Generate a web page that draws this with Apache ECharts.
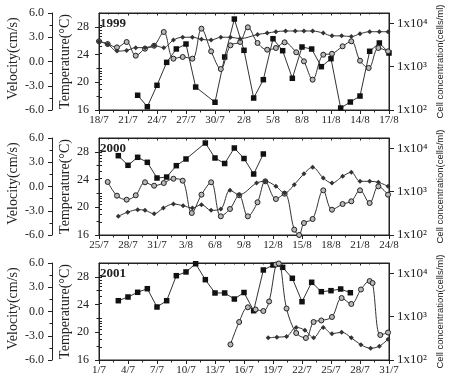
<!DOCTYPE html>
<html><head><meta charset="utf-8">
<script src="https://cdn.jsdelivr.net/npm/echarts@6/dist/echarts.min.js"></script>
<style>html,body{margin:0;padding:0;background:#fff}#c{width:450px;height:382px}</style>
</head><body><div id="c"></div>
<script>
// ---- tick labels (x axis, every 3 days) ----
const tickLabels1999 = ['18/7','21/7','24/7','27/7','30/7','2/8','5/8','8/8','11/8','14/8','17/8'];
const tickLabels2000 = ['25/7','28/7','31/7','3/8','6/8','9/8','12/8','15/8','18/8','21/8','24/8'];
const tickLabels2001 = ['1/7','4/7','7/7','10/7','13/7','16/7','19/7','22/7','25/7','28/7','31/7'];
const years = ['1999','2000','2001'];
const tempTicks = [16,20,24,28];
const cellTicks = [100,1000,10000];
const cellMinorTicks = [200,300,400,500,600,700,800,900,2000,3000,4000,5000,6000,7000,8000,9000];
const axisNames = {velocity:'Velocity(cm/s)', temperature:'Temperature(\u00b0C)', cells:'Cell concentration(cells/ml)'};

// ---- cell concentration (cells/ml), [day offset, value] ----
const cells1999 = [[4,219],[5,119],[6,372],[7,1260],[8,2570],[9,3340],[10,339],[12,151],[13,1675],[14,12600],[15,2390],[16,189],[17,501],[18,4430],[19,2340],[20,540],[21,2850],[22,2560],[23,1000],[24,1530],[25,111],[26,153],[27,210],[28,2270],[29,3530],[30,2070]];
const cells2000 = [[2,6780],[3,4070],[4,6230],[5,4770],[6,2070],[7,2180],[8,3990],[9,5690],[11,13300],[12,6000],[13,4480],[14,10200],[15,5840],[16,2560],[17,7430]];
const cells2001 = [[2,2340],[3,2850],[4,3660],[5,4430],[6,1675],[7,2340],[8,8850],[9,10800],[10,16700],[11,7160],[12,3530],[13,3530],[14,2560],[15,3620],[16,1375],[17,11990],[18,15600],[19,13800],[20,7710],[21,2220],[22,6230],[23,3780],[24,3990],[25,4360],[26,3580]];

// ---- velocity (cm/s) ----
const velocity1999 = [[0,2.50],[0.9,2.16],[1.86,1.75],[2.86,2.41],[3.8,0.72],[4.76,1.58],[5.7,1.95],[6.7,3.65],[7.7,0.35],[8.66,0.56],[9.66,0.35],[10.6,4.06],[11.6,1.26],[12.6,-0.93],[13.6,2.0],[14.6,2.41],[15.4,4.23],[16.4,2.29],[17.4,1.46],[18.3,1.67],[19.2,2.37],[20.4,1.14],[21.2,0.02],[22.1,-2.25],[23.2,0.84],[24.1,0.96],[25.2,1.88],[26.1,2.5],[27,0.1],[27.9,-0.8],[28.9,1.67],[29.9,1.26]];
const velocity2000 = [[0.9,0.56],[1.86,-1.14],[2.86,-1.63],[3.8,-1.09],[4.76,0.52],[5.7,0.10],[6.7,0.43],[7.7,0.96],[8.66,0.72],[9.6,-3.28],[10.6,-1.01],[11.6,0.52],[12.6,-3.69],[13.55,-2.78],[14.5,-1.09],[15.4,-3.69],[16.4,-1.95],[17.2,0.64],[18.3,-1.55],[19.2,-0.89],[20.2,-5.34],[20.7,-6.0],[21.2,-4.52],[22.1,-4.02],[23.2,-0.47],[24.1,-2.87],[25.2,-2.17],[26.1,-1.83],[27,-0.47],[28,-2.04],[28.9,0.02],[29.9,-1.01]];
const velocity2001 = [[13.6,-4.08],[14.5,-1.30],[15.4,0.52],[16.2,0.25],[17.0,0.06],[17.6,1.24],[18.3,5.81],[18.6,5.94],[19.4,0.37],[20.4,-2.66],[21.4,-3.28],[22.2,-1.30],[23.0,-1.11],[24.1,-0.68],[25.1,1.67],[26.1,0.93],[27.1,2.72],[28.0,3.77],[28.3,3.52],[29.1,-2.91],[29.9,-2.6]];

// ---- temperature (°C) ----
const temperature1999 = [[0,25.9],[0.9,25.5],[1.86,24.5],[2.86,24.6],[3.8,25.0],[4.76,25.0],[5.7,25.3],[6.7,25.0],[7.7,26.1],[8.66,26.5],[9.66,26.5],[10.6,26.2],[11.6,26.1],[12.6,26.5],[13.6,26.5],[14.6,26.3],[16.4,26.9],[17.4,27.1],[18.3,27.3],[19.3,27.4],[20.3,27.4],[21.2,27.4],[22.1,27.4],[23.2,27.1],[24.1,26.7],[25.1,26.7],[26.1,26.6],[27,27.0],[28,27.3],[29,27.3],[29.9,27.3]];
const temperature2000 = [[2,18.7],[2.97,19.3],[4,19.65],[4.76,19.56],[5.7,19.07],[6.66,19.9],[7.7,20.47],[8.7,20.23],[9.66,19.9],[10.6,20.37],[11.6,19.56],[12.6,19.75],[13.55,22.45],[14.5,21.82],[16.3,23.5],[17.2,23.75],[18.3,23.03],[19.2,22.06],[20.2,23.26],[21.2,24.85],[22.1,25.77],[23.2,24.23],[24.1,23.5],[25.2,24.47],[26.1,25.05],[27,23.75],[28,23.75],[28.9,23.6],[29.9,23.03]];
const temperature2001 = [[17.5,19.2],[18.4,19.3],[19.4,19.4],[20.4,20.7],[21.3,20.3],[22.2,19.2],[23.2,20.7],[24.1,19.8],[25.1,20.0],[26.1,19.2],[27.1,18.2],[28.1,17.7],[29,18.0],[29.9,19.0]];

const SERIF = '"Liberation Serif","Times New Roman",serif';
const SANS = '"Liberation Sans",Arial,sans-serif';
const INK = '#222';
const SUP = {2:'\u00b2',3:'\u00b3',4:'\u2074'};

const panels = [
  {year:years[0], ticks:tickLabels1999, cells:cells1999, vel:velocity1999, temp:temperature1999},
  {year:years[1], ticks:tickLabels2000, cells:cells2000, vel:velocity2000, temp:temperature2000},
  {year:years[2], ticks:tickLabels2001, cells:cells2001, vel:velocity2001, temp:temperature2001}
];

const grid=[], xAxis=[], yAxis=[], series=[], title=[], graphic=[];
const lineC = {color:INK, width:1};
panels.forEach((p,i)=>{
  const top = 13 + 125*i;
  const mid = top + 48.5;
  grid.push({left:99, top:top, width:290, height:97, show:true, borderColor:INK, borderWidth:1, backgroundColor:'transparent'});
  title.push({text:p.year, left:100, top:top+4, padding:0, textStyle:{fontFamily:SERIF, fontWeight:'bold', fontSize:13, color:INK}});
  graphic.push({type:'text', x:13, y:mid-3, rotation:Math.PI/2, silent:true,
    style:{text:axisNames.velocity, font:'14px '+SERIF, fill:INK, align:'center', verticalAlign:'middle'}});
  graphic.push({type:'text', x:65, y:mid, rotation:Math.PI/2, silent:true,
    style:{text:axisNames.temperature, font:'14px '+SERIF, fill:INK, align:'center', verticalAlign:'middle'}});
  graphic.push({type:'text', x:440, y:mid, rotation:Math.PI/2, silent:true,
    style:{text:axisNames.cells, font:'9.5px '+SANS, fill:INK, align:'center', verticalAlign:'middle'}});
  xAxis.push({gridIndex:i, type:'value', min:0, max:30, interval:3, position:'bottom',
    axisLine:{show:true,onZero:false,lineStyle:lineC},
    axisTick:{show:true,length:4,lineStyle:lineC},
    minorTick:{show:true,splitNumber:2,length:2.5,lineStyle:lineC},
    splitLine:{show:false}, minorSplitLine:{show:false},
    axisLabel:{margin:5, color:INK, fontFamily:SERIF, fontSize:11, formatter:v=>p.ticks[Math.round(v/3)]||''}
  });
  xAxis.push({gridIndex:i, type:'value', min:0, max:30, interval:3, position:'top',
    axisLine:{show:true,onZero:false,lineStyle:lineC},
    axisTick:{show:true,inside:true,length:2.5,lineStyle:lineC},
    minorTick:{show:true,splitNumber:3,length:1.5,lineStyle:lineC},
    splitLine:{show:false}, axisLabel:{show:false}
  });
  // temperature axis
  yAxis.push({gridIndex:i, type:'value', min:16, max:30, interval:4, position:'left',
    axisLine:{show:true,onZero:false,lineStyle:lineC},
    axisTick:{show:true,length:4,lineStyle:lineC, customValues:tempTicks},
    minorTick:{show:true,splitNumber:2,length:2.5,lineStyle:lineC},
    splitLine:{show:false},
    axisLabel:{margin:10, color:INK, fontFamily:SERIF, fontSize:12, customValues:tempTicks, formatter:v=>(v%4===0?String(v):'')}
  });
  // velocity axis
  yAxis.push({gridIndex:i, type:'value', min:-6, max:6, interval:3, position:'left', offset:47,
    axisLine:{show:true,onZero:false,lineStyle:lineC},
    axisTick:{show:true,length:4,lineStyle:lineC},
    minorTick:{show:true,splitNumber:2,length:2.5,lineStyle:lineC},
    splitLine:{show:false},
    axisLabel:{margin:8, color:INK, fontFamily:SERIF, fontSize:12, formatter:v=>v.toFixed(1)}
  });
  // cell concentration (log) axis, major
  yAxis.push({gridIndex:i, type:'log', logBase:10, min:100, max:17378, position:'right',
    axisLine:{show:true,onZero:false,lineStyle:lineC},
    axisTick:{show:true,length:5,lineStyle:lineC, customValues:cellTicks},
    splitLine:{show:false},
    axisLabel:{margin:8, color:INK, fontFamily:SERIF, fontSize:13, customValues:cellTicks,
      formatter:v=>'1x10'+(SUP[Math.round(Math.log10(v))]||'')}
  });
  // minor ticks of log axis
  yAxis.push({gridIndex:i, type:'log', logBase:10, min:100, max:17378, position:'right',
    axisLine:{show:false},
    axisTick:{show:true,length:3,lineStyle:lineC, customValues:cellMinorTicks},
    splitLine:{show:false}, axisLabel:{show:false}
  });
  series.push({type:'line', xAxisIndex:2*i, yAxisIndex:4*i+2, data:p.cells,
    symbol:'rect', symbolSize:5.5, itemStyle:{color:'#111'}, lineStyle:{color:'#333',width:1}, z:3});
  series.push({type:'line', xAxisIndex:2*i, yAxisIndex:4*i+1, data:p.vel, smooth:0.35,
    symbol:'circle', symbolSize:5, itemStyle:{color:'#b8b8b8', borderColor:'#222', borderWidth:1},
    lineStyle:{color:'#333',width:1}, z:4});
  series.push({type:'line', xAxisIndex:2*i, yAxisIndex:4*i, data:p.temp, smooth:0.35,
    symbol:'diamond', symbolSize:5, itemStyle:{color:'#333'},
    lineStyle:{color:'#333',width:1}, z:5});
});

const chart = echarts.init(document.getElementById('c'), null, {renderer:'canvas'});
chart.setOption({animation:false, backgroundColor:'#fff', title, grid, xAxis, yAxis, series, graphic});
</script>
</body></html>
